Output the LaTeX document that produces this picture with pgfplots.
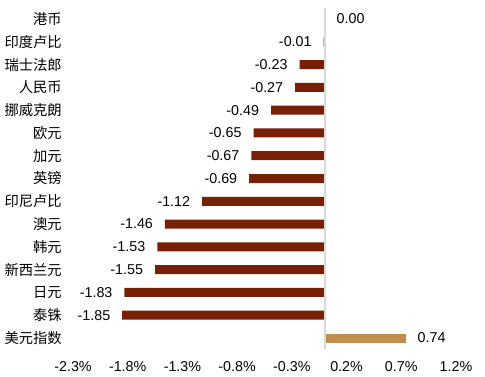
\documentclass[border=0pt]{standalone}
\usepackage{fontspec}
\setmainfont{Liberation Sans}
\newfontfamily\cjk{Noto Sans CJK SC}
\usepackage{pgfplots}
\pgfplotsset{compat=1.18}
\definecolor{barred}{RGB}{120,32,5}
\definecolor{bargold}{RGB}{192,143,74}
\definecolor{axgray}{RGB}{217,217,217}
\begin{document}
\begin{tikzpicture}
\path[use as bounding box] (-73pt,-27.6pt) rectangle (412pt,349.4pt);
\begin{axis}[
  at={(0pt,0pt)}, anchor=south west,
  scale only axis, width=383pt, height=341.8pt,
  xmin=-2.3, xmax=1.2, ymin=-0.5, ymax=14.5, y dir=reverse,
  enlargelimits=false,
  xbar, bar width=9pt, bar shift=0pt,
  axis line style={draw=none},
  major tick length=0pt,
  tick style={draw=none},
  xtick={-2.3,-1.8,-1.3,-0.8,-0.3,0.2,0.7,1.2},
  xticklabels={-2.3\%,-1.8\%,-1.3\%,-0.8\%,-0.3\%,0.2\%,0.7\%,1.2\%},
  xticklabel style={inner sep=0pt, anchor=north, yshift=-11.5pt, font=\fontsize{14.3}{17}\selectfont},
  ytick={0,...,14},
  yticklabels={港币,印度卢比,瑞士法郎,人民币,挪威克朗,欧元,加元,英镑,印尼卢比,澳元,韩元,新西兰元,日元,泰铢,美元指数},
  yticklabel style={inner sep=0pt, anchor=east, xshift=-11pt, font=\cjk\fontsize{14.3}{17}\selectfont},
  /pgf/number format/assume math mode=true,
  nodes near coords={\pgfmathprintnumber[fixed,fixed zerofill,precision=2]{\pgfplotspointmeta}},
  nodes near coords align=horizontal,
  every node near coord/.append style={inner sep=0pt, outer xsep=12pt, font=\fontsize{14.3}{17}\selectfont, text=black},
]
\addplot[fill=barred, draw=none] coordinates {
  (0.00,0) (-0.01,1) (-0.23,2) (-0.27,3) (-0.49,4) (-0.65,5) (-0.67,6)
  (-0.69,7) (-1.12,8) (-1.46,9) (-1.53,10) (-1.55,11) (-1.83,12) (-1.85,13)
};
\addplot[fill=bargold, draw=none] coordinates {(0.74,14)};
\draw[axgray, line width=2pt] (axis cs:0,-0.5) -- (axis cs:0,14.5);
\end{axis}
\end{tikzpicture}
\end{document}
